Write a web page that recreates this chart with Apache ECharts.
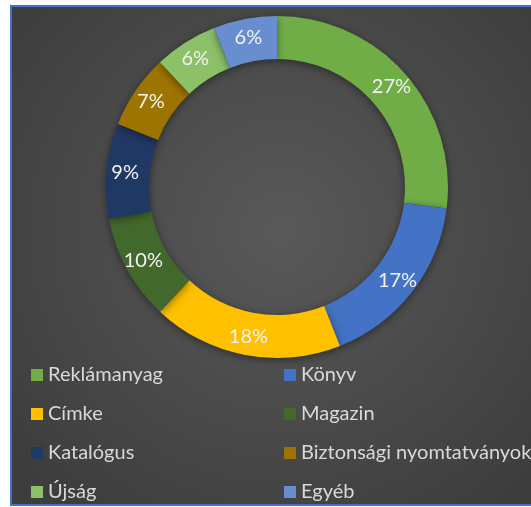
<!DOCTYPE html>
<html>
<head>
<meta charset="utf-8">
<script src="https://cdn.jsdelivr.net/npm/echarts@6/dist/echarts.min.js"></script>
<style>
  html, body { margin: 0; padding: 0; background: #fff; }
  #chart { width: 531px; height: 507px; }
</style>
</head>
<body>
<div id="chart"></div>
<script>
const categories = ['Reklámanyag', 'Könyv', 'Címke', 'Magazin', 'Katalógus', 'Biztonsági nyomtatványok', 'Újság', 'Egyéb']
const shares = [27, 17, 18, 10, 9, 7, 6, 6]
const colors = ['#70AD47', '#4472C4', '#FFC000', '#43682B', '#203864', '#9E7400', '#8CC168', '#698ED0']
const leftColumn = ['Reklámanyag', 'Címke', 'Katalógus', 'Újság']
const rightColumn = ['Könyv', 'Magazin', 'Biztonsági nyomtatványok', 'Egyéb']

const fontFamily = 'Lato, "Open Sans", sans-serif'
const textColor = '#D9D9D9'

const chart = echarts.init(document.getElementById('chart'))

const legendBase = {
  orient: 'vertical',
  icon: 'rect',
  padding: 0,
  itemWidth: 12,
  itemHeight: 12,
  itemGap: 19,
  top: 365,
  textStyle: {
    color: textColor,
    fontSize: 20,
    lineHeight: 20,
    fontFamily: fontFamily
  }
}

chart.setOption({
  backgroundColor: 'transparent',
  color: colors,
  graphic: [{
    type: 'rect',
    z: -10,
    shape: { x: 11, y: 6, width: 540, height: 499 },
    style: {
      fill: {
        type: 'radial', x: 0.5, y: 0.45, r: 0.7,
        colorStops: [
          { offset: 0, color: '#595959' },
          { offset: 1, color: '#3D3D3D' }
        ]
      },
      stroke: '#4472C4',
      lineWidth: 2
    }
  }],
  legend: [
    { ...legendBase, left: 31, data: leftColumn },
    { ...legendBase, left: 284, data: rightColumn }
  ],
  series: [{
    type: 'pie',
    center: [277, 187],
    radius: [128, 171],
    startAngle: 90,
    clockwise: true,
    avoidLabelOverlap: false,
    silent: true,
    label: {
      show: true,
      position: 'inside',
      color: '#F2F2F2',
      fontSize: 20,
      fontFamily: fontFamily,
      formatter: p => `${p.value}%`
    },
    labelLine: { show: false },
    itemStyle: {
      shadowBlur: 8,
      shadowColor: 'rgba(0,0,0,0.45)',
      shadowOffsetY: 2
    },
    data: categories.map((name, i) => ({ name: name, value: shares[i] }))
  }]
})
</script>
</body>
</html>
